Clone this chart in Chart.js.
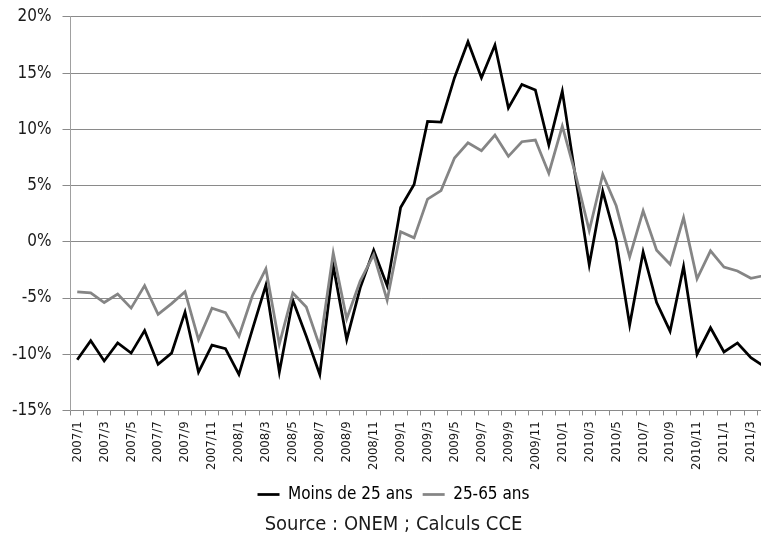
<!DOCTYPE html>
<html>
<head>
<meta charset="utf-8">
<script src="https://cdn.jsdelivr.net/npm/chart.js@4/dist/chart.umd.min.js"></script>
<style>
  html, body { margin: 0; padding: 0; background: #fff; overflow: hidden; }
  #wrap { width: 786px; height: 542px; }
</style>
</head>
<body>
<div id="wrap"><canvas id="chomage_chart" width="786" height="542"></canvas></div>
<script>
// months 2007/1 .. 2011/4
const months = [
  "2007/1","2007/2","2007/3","2007/4","2007/5","2007/6","2007/7","2007/8","2007/9","2007/10","2007/11","2007/12",
  "2008/1","2008/2","2008/3","2008/4","2008/5","2008/6","2008/7","2008/8","2008/9","2008/10","2008/11","2008/12",
  "2009/1","2009/2","2009/3","2009/4","2009/5","2009/6","2009/7","2009/8","2009/9","2009/10","2009/11","2009/12",
  "2010/1","2010/2","2010/3","2010/4","2010/5","2010/6","2010/7","2010/8","2010/9","2010/10","2010/11","2010/12",
  "2011/1","2011/2","2011/3","2011/4"
];

// variation in %
const moins25 = [
  -10.5, -8.8, -10.6, -9.0, -9.9, -7.9, -10.9, -9.9, -6.25, -11.6, -9.2, -9.5,
  -11.8, -7.8, -3.85, -11.6, -5.2, -8.4, -11.8, -2.1, -8.7, -4.1, -0.75, -3.9,
  3.05, 5.1, 10.7, 10.65, 14.6, 17.8, 14.6, 17.5, 11.9, 14.0, 13.5, 8.6,
  13.4, 5.6, -2.05, 4.5, 0.1, -7.4, -0.9, -5.4, -7.95, -2.2, -10.0, -7.65,
  -9.8, -9.0, -10.3, -11.1
];
const age25_65 = [
  -4.45, -4.55, -5.4, -4.65, -5.9, -3.9, -6.45, -5.5, -4.45, -8.7, -5.9, -6.3,
  -8.4, -4.8, -2.4, -9.1, -4.55, -5.8, -9.3, -1.0, -6.85, -3.5, -1.15, -5.2,
  0.9, 0.35, 3.8, 4.55, 7.45, 8.8, 8.1, 9.5, 7.6, 8.9, 9.05, 6.1,
  10.3, 5.9, 1.0, 6.0, 3.2, -1.35, 2.75, -0.75, -2.0, 2.15, -3.3, -0.8,
  -2.25, -2.6, -3.25, -3.0
];

Chart.defaults.font.family = "'DejaVu Sans Condensed', 'DejaVu Sans', sans-serif";
Chart.defaults.color = "#1a1a1a";

const gridCol = "#8a8a8a";

new Chart("chomage_chart", {
  type: "line",
  data: {
    labels: months,
    datasets: [{
      label: "Moins de 25 ans",
      data: moins25,
      borderColor: "#000000",
      backgroundColor: "#000000",
      borderWidth: 2.75,
      pointRadius: 0,
      tension: 0,
      order: 1
    }, {
      label: "25-65 ans",
      data: age25_65,
      borderColor: "#858585",
      backgroundColor: "#858585",
      borderWidth: 2.75,
      pointRadius: 0,
      tension: 0,
      order: 0
    }]
  },
  options: {
    responsive: false,
    animation: false,
    layout: { padding: { left: 1, top: 0, right: 0, bottom: 0 } },
    scales: {
      x: {
        offset: true,
        grid: { offset: true, drawOnChartArea: false, drawTicks: true, tickLength: 5, color: gridCol },
        border: { color: gridCol },
        ticks: {
          autoSkip: false,
          minRotation: 90,
          maxRotation: 90,
          padding: 6,
          font: { size: 13 },
          callback: (v, i) => (i % 2 === 0 ? months[i] : "")
        }
      },
      y: {
        min: -15,
        max: 20,
        grid: { color: gridCol, tickLength: 8 },
        border: { color: "#a0a0a0" },
        ticks: {
          stepSize: 5,
          padding: 11,
          font: { size: 17, lineHeight: 0.7 },
          callback: (v) => v + "%"
        }
      }
    },
    plugins: {
      tooltip: { enabled: false },
      legend: {
        position: "bottom",
        reverse: true,
        labels: {
          usePointStyle: true,
          pointStyle: "line",
          pointStyleWidth: 22,
          padding: 10,
          color: "#000",
          font: { size: 17 }
        }
      },
      title: {
        display: true,
        position: "bottom",
        text: "Source : ONEM ; Calculs CCE",
        color: "#1a1a1a",
        font: { size: 20, weight: "normal" },
        padding: { top: 0, bottom: 5 }
      }
    }
  }
});
</script>
</body>
</html>
